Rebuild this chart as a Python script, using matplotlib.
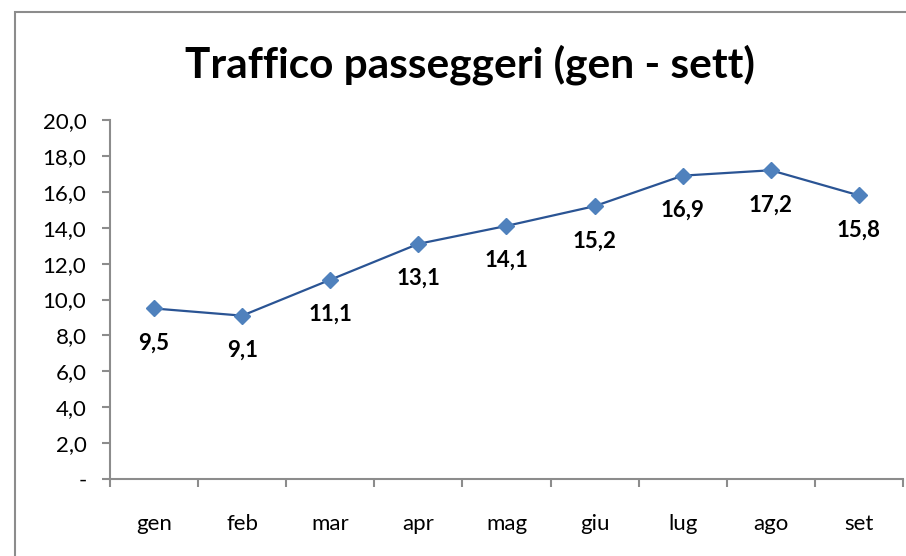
import matplotlib
matplotlib.use("Agg")
import matplotlib.pyplot as plt
from matplotlib.patches import Rectangle

months = ["gen", "feb", "mar", "apr", "mag", "giu", "lug", "ago", "set"]
values = [9.5, 9.1, 11.1, 13.1, 14.1, 15.2, 16.9, 17.2, 15.8]
yticks = [0, 2, 4, 6, 8, 10, 12, 14, 16, 18, 20]
title = "Traffico passeggeri (gen - sett)"

plt.rcParams['font.family'] = ['Lato', 'DejaVu Sans']

fig = plt.figure(figsize=(9.06, 5.56), dpi=100)
fig.patch.set_facecolor("white")
# outer chart border (left and top visible)
fig.patches.append(Rectangle((15/906, -0.05), 1.0, 1 - 12/556 + 0.05,
                             transform=fig.transFigure, fill=False,
                             edgecolor="#8c8c8c", linewidth=1.5))

ax = fig.add_axes([110/906, 1 - 479/556, 793/906, 359/556])
x = list(range(len(months)))
ax.plot(x, values, color="#2a5494", linewidth=1.6, marker="D",
        markersize=8, markerfacecolor="#4f81bd", markeredgecolor="#4f81bd")
for xi, v in zip(x, values):
    ax.annotate(f"{v:.1f}".replace(".", ","), (xi, v), xytext=(0, -25),
                textcoords="offset points", ha="center", va="center",
                fontsize=16, fontweight="bold", color="black")

ax.set_xlim(-0.5, len(months) - 0.5)
ax.set_ylim(0, 20)
ax.set_yticks(yticks)
ax.set_yticklabels(["-" if t == 0 else f"{t:.1f}".replace(".", ",") for t in yticks])
ax.set_xticks(x)
ax.set_xticklabels(months)
ax.set_xticks([i - 0.5 for i in range(len(months) + 1)], minor=True)
ax.tick_params(axis="x", which="major", length=0, pad=25, labelsize=16)
ax.tick_params(axis="x", which="minor", length=6, width=1.5, color="#8c8c8c", direction="out")
ax.tick_params(axis="y", length=6, width=1.5, color="#8c8c8c", pad=11, labelsize=16)
for s in ["top", "right"]:
    ax.spines[s].set_visible(False)
for s in ["left", "bottom"]:
    ax.spines[s].set_color("#8c8c8c")
    ax.spines[s].set_linewidth(1.5)

fig.text(470/906, 1 - 65/556, title, ha="center", va="center",
         fontsize=30.5, fontweight="bold", color="black")

fig.savefig("out.png", dpi=100, facecolor="white")
